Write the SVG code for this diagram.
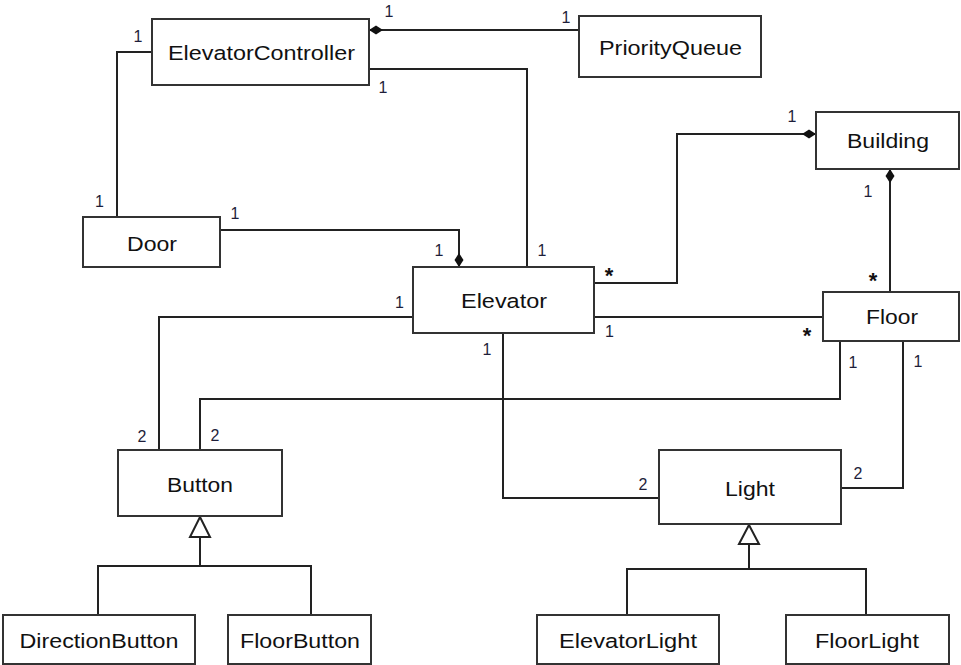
<svg xmlns="http://www.w3.org/2000/svg" width="961" height="665" viewBox="0 0 961 665">
<style>
.box{fill:#fff;stroke:#333;stroke-width:2}
.nt{font-family:"Liberation Sans",Arial,sans-serif;font-size:20.5px;fill:#111;text-anchor:middle}
.ln{fill:none;stroke:#222;stroke-width:2}
.lb{font-family:"Liberation Sans",Arial,sans-serif;font-size:16px;fill:#1e1e3a;text-anchor:middle}
.st{font-family:"Liberation Sans",Arial,sans-serif;font-size:22px;font-weight:bold;fill:#111;text-anchor:middle}
.tri{fill:#fff;stroke:#222;stroke-width:2}
</style>
<defs>
<marker id="diamond" markerUnits="userSpaceOnUse" markerWidth="16" markerHeight="10" refX="0" refY="5" orient="auto" viewBox="0 0 16 10">
<path d="M0,5 L7,0.5 L14,5 L7,9.5 Z" fill="#111"/>
</marker>
</defs>
<g id="connectors">
<path class="ln" d="M369,30 H579" marker-start="url(#diamond)"/>
<path class="ln" d="M152,52 H117 V217"/>
<path class="ln" d="M369,69 H527 V267"/>
<path class="ln" d="M459,267 V230 H220" marker-start="url(#diamond)"/>
<path class="ln" d="M816,134 H677 V283 H594" marker-start="url(#diamond)"/>
<path class="ln" d="M890,169 V292" marker-start="url(#diamond)"/>
<path class="ln" d="M594,317 H823"/>
<path class="ln" d="M413,317 H159 V450"/>
<path class="ln" d="M840,341 V399 H200 V450"/>
<path class="ln" d="M503,333 V498 H659"/>
<path class="ln" d="M903,341 V488 H841"/>
<path class="ln" d="M200,537 V566 M98,615 V566 H311 V615"/>
<path class="tri" d="M200,517 L210,537 L190,537 Z"/>
<path class="ln" d="M749,544 V569 M627,615 V569 H866 V615"/>
<path class="tri" d="M749,525 L759,544 L739,544 Z"/>
<text class="lb" x="389" y="17">1</text>
<text class="lb" x="566" y="23">1</text>
<text class="lb" x="138" y="42">1</text>
<text class="lb" x="99.5" y="207">1</text>
<text class="lb" x="383" y="93">1</text>
<text class="lb" x="542" y="256">1</text>
<text class="lb" x="235" y="219">1</text>
<text class="lb" x="439" y="256">1</text>
<text class="st" x="609" y="283">*</text>
<text class="lb" x="792" y="122">1</text>
<text class="lb" x="868" y="197">1</text>
<text class="st" x="873" y="288">*</text>
<text class="lb" x="609.5" y="337">1</text>
<text class="st" x="807" y="343">*</text>
<text class="lb" x="399.5" y="308">1</text>
<text class="lb" x="142" y="442">2</text>
<text class="lb" x="215" y="441">2</text>
<text class="lb" x="853" y="368">1</text>
<text class="lb" x="918" y="367">1</text>
<text class="lb" x="487" y="355">1</text>
<text class="lb" x="643" y="490">2</text>
<text class="lb" x="858" y="479">2</text>
</g>
<g id="ElevatorController"><rect class="box" x="152" y="19" width="217" height="66"/><text class="nt" x="261.5" y="60" textLength="187" lengthAdjust="spacingAndGlyphs">ElevatorController</text></g>
<g id="PriorityQueue"><rect class="box" x="579" y="16" width="182" height="61"/><text class="nt" x="670.5" y="55" textLength="143" lengthAdjust="spacingAndGlyphs">PriorityQueue</text></g>
<g id="Building"><rect class="box" x="816" y="112" width="143" height="57"/><text class="nt" x="888" y="148" textLength="82" lengthAdjust="spacingAndGlyphs">Building</text></g>
<g id="Door"><rect class="box" x="83" y="217" width="137" height="50"/><text class="nt" x="152" y="251" textLength="50" lengthAdjust="spacingAndGlyphs">Door</text></g>
<g id="Elevator"><rect class="box" x="413" y="267" width="181" height="66"/><text class="nt" x="504" y="308" textLength="86" lengthAdjust="spacingAndGlyphs">Elevator</text></g>
<g id="Floor"><rect class="box" x="823" y="292" width="136" height="49"/><text class="nt" x="892" y="324" textLength="52" lengthAdjust="spacingAndGlyphs">Floor</text></g>
<g id="Button"><rect class="box" x="118" y="450" width="164" height="66"/><text class="nt" x="200" y="492" textLength="66" lengthAdjust="spacingAndGlyphs">Button</text></g>
<g id="Light"><rect class="box" x="659" y="450" width="182" height="74"/><text class="nt" x="750" y="496" textLength="50" lengthAdjust="spacingAndGlyphs">Light</text></g>
<g id="DirectionButton"><rect class="box" x="3" y="615" width="192" height="49"/><text class="nt" x="99" y="648" textLength="159" lengthAdjust="spacingAndGlyphs">DirectionButton</text></g>
<g id="FloorButton"><rect class="box" x="228" y="615" width="143" height="49"/><text class="nt" x="300" y="648" textLength="120" lengthAdjust="spacingAndGlyphs">FloorButton</text></g>
<g id="ElevatorLight"><rect class="box" x="537" y="615" width="182" height="49"/><text class="nt" x="628" y="648" textLength="138" lengthAdjust="spacingAndGlyphs">ElevatorLight</text></g>
<g id="FloorLight"><rect class="box" x="786" y="615" width="163" height="49"/><text class="nt" x="867" y="648" textLength="104" lengthAdjust="spacingAndGlyphs">FloorLight</text></g>
</svg>
